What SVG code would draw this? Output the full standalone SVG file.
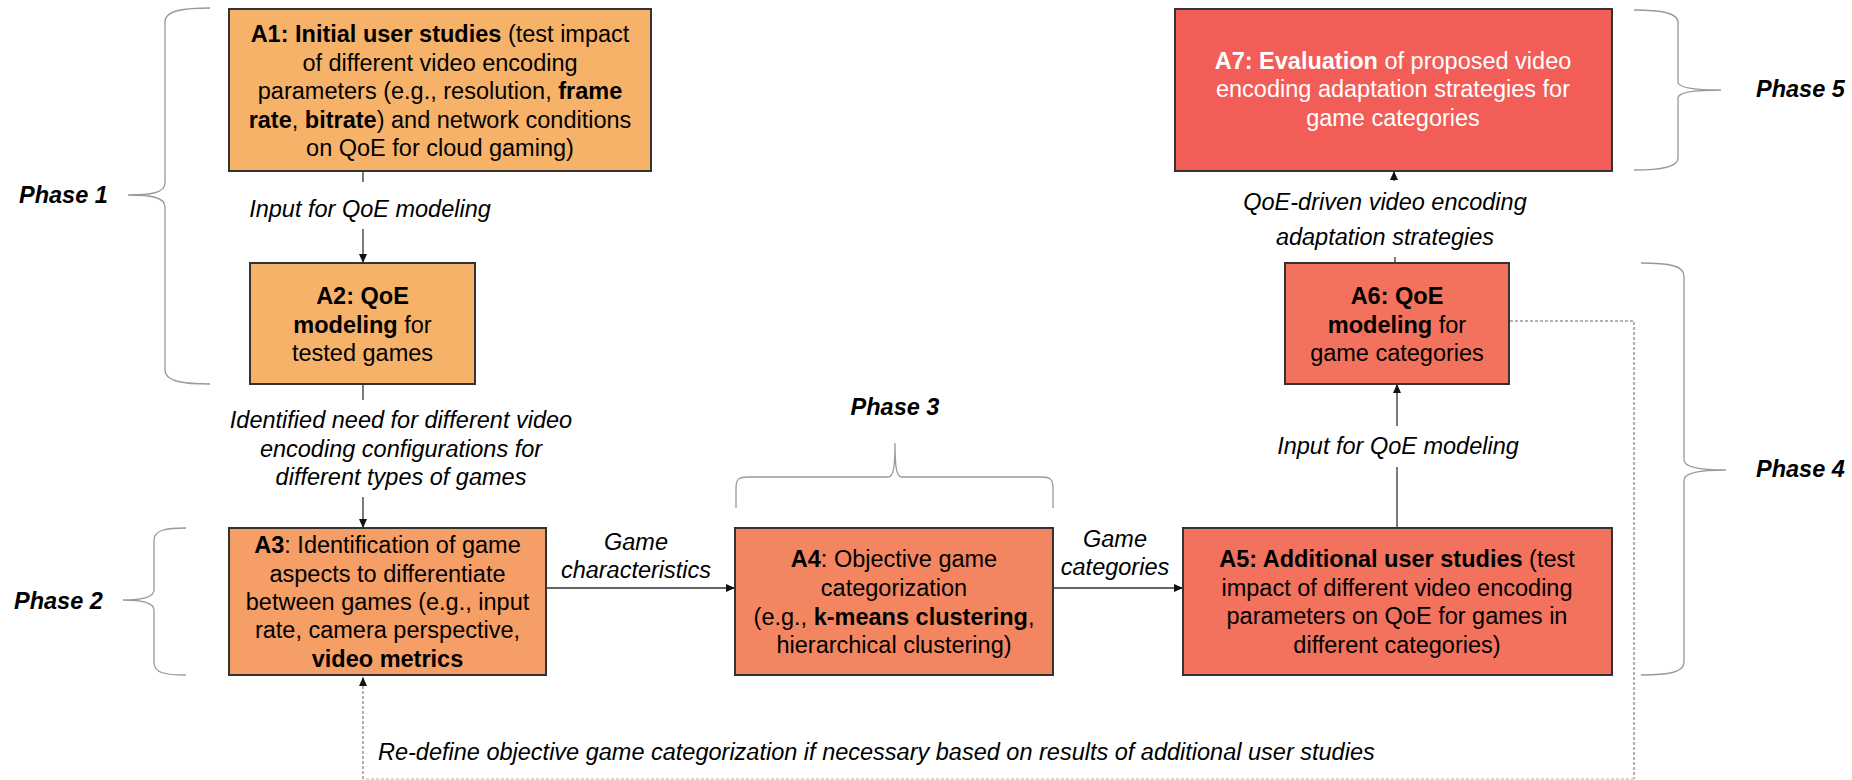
<svg xmlns="http://www.w3.org/2000/svg" width="1852" height="780" viewBox="0 0 1852 780">
<defs>
<style>
.box{stroke:#333;stroke-width:2}
.t{font-family:"Liberation Sans",Arial,sans-serif;font-size:23.5px;fill:#000;text-anchor:middle}
.w{fill:#fff}
.b{font-weight:bold}
.lbl{font-family:"Liberation Sans",Arial,sans-serif;font-size:23.5px;font-style:italic;fill:#000;text-anchor:middle}
.ph{font-family:"Liberation Sans",Arial,sans-serif;font-size:23.5px;font-style:italic;font-weight:bold;fill:#000}
.ln{stroke:#333;stroke-width:1.3;fill:none}
.dash{stroke:#999;stroke-width:1.5;fill:none;stroke-dasharray:3 2}
.br{stroke:#999;stroke-width:1.3;fill:none}
</style>
<marker id="ah" markerUnits="userSpaceOnUse" markerWidth="10" markerHeight="10" viewBox="0 0 10 10" refX="9" refY="5" orient="auto">
<path d="M0,1 L9,5 L0,9 Z" fill="#111"/>
</marker>
</defs>

<g id="braces">
<path class="br" d="M210,8 C185,8 165,10 165,22 L165,183 C165,193 150,195 128,195 C150,195 165,197 165,207 L165,370 C165,382 185,384 210,384"/>
<path class="br" d="M186,528 C166,528 154,530 154,540 L154,590 C154,598 140,600 123,600 C140,600 154,602 154,610 L154,663 C154,673 166,675 186,675"/>
<path class="br" d="M736,508 L736,488 C736,479 739,477 748,477 L888,477 C893,477 895,470 895,443 C895,470 897,477 902,477 L1041,477 C1050,477 1053,479 1053,488 L1053,508"/>
<path class="br" d="M1641,263 C1670,263 1684,266 1684,276 L1684,460 C1684,467 1700,470 1726,470 C1700,470 1684,473 1684,480 L1684,662 C1684,672 1670,675 1641,675"/>
<path class="br" d="M1634,10 C1662,10 1678,13 1678,22 L1678,82 C1678,88 1695,90 1721,90 C1695,90 1678,92 1678,98 L1678,158 C1678,167 1662,170 1634,170"/>
</g>

<g id="phases">
<text class="ph" x="19" y="203">Phase 1</text>
<text class="ph" x="14" y="609">Phase 2</text>
<text class="ph" x="895" y="415" style="text-anchor:middle">Phase 3</text>
<text class="ph" x="1756" y="477">Phase 4</text>
<text class="ph" x="1756" y="97">Phase 5</text>
</g>

<g id="connectors">
<line class="ln" x1="363" y1="172" x2="363" y2="182"/>
<line class="ln" x1="363" y1="229" x2="363" y2="263" marker-end="url(#ah)"/>
<text class="lbl" x="370" y="217">Input for QoE modeling</text>

<line class="ln" x1="363" y1="385" x2="363" y2="400"/>
<line class="ln" x1="363" y1="497" x2="363" y2="528" marker-end="url(#ah)"/>
<text class="lbl" x="401" y="428">Identified need for different video</text>
<text class="lbl" x="401" y="457">encoding configurations for</text>
<text class="lbl" x="401" y="485">different types of games</text>

<line class="ln" x1="547" y1="588" x2="735" y2="588" marker-end="url(#ah)"/>
<text class="lbl" x="636" y="550">Game</text>
<text class="lbl" x="636" y="578">characteristics</text>

<line class="ln" x1="1054" y1="588" x2="1183" y2="588" marker-end="url(#ah)"/>
<text class="lbl" x="1115" y="547">Game</text>
<text class="lbl" x="1115" y="575">categories</text>

<line class="ln" x1="1397" y1="527" x2="1397" y2="467"/>
<line class="ln" x1="1397" y1="426" x2="1397" y2="384" marker-end="url(#ah)"/>
<text class="lbl" x="1398" y="454">Input for QoE modeling</text>

<line class="ln" x1="1395" y1="262" x2="1395" y2="257"/>
<line class="ln" x1="1394" y1="181" x2="1394" y2="171" marker-end="url(#ah)"/>
<text class="lbl" x="1385" y="210">QoE-driven video encoding</text>
<text class="lbl" x="1385" y="245">adaptation strategies</text>

<path class="dash" d="M1510,321 L1634,321 L1634,779"/>
<path class="dash" d="M1634,779 L363,779" style="stroke:#ccc"/>
<path class="dash" d="M363,779 L363,677" marker-end="url(#ah)"/>
<text class="lbl" x="378" y="760" style="text-anchor:start">Re-define objective game categorization if necessary based on results of additional user studies</text>
</g>

<g id="A1">
<rect class="box" x="229" y="9" width="422" height="162" fill="#F7B26A"/>
<text class="t" x="440" y="42"><tspan class="b">A1: Initial user studies</tspan> (test impact</text>
<text class="t" x="440" y="71">of different video encoding</text>
<text class="t" x="440" y="99">parameters (e.g., resolution, <tspan class="b">frame</tspan></text>
<text class="t" x="440" y="128"><tspan class="b">rate</tspan>, <tspan class="b">bitrate</tspan>) and network conditions</text>
<text class="t" x="440" y="156">on QoE for cloud gaming)</text>
</g>

<g id="A2">
<rect class="box" x="250" y="263" width="225" height="121" fill="#F7B26A"/>
<text class="t" x="362.5" y="304"><tspan class="b">A2: QoE</tspan></text>
<text class="t" x="362.5" y="333"><tspan class="b">modeling</tspan> for</text>
<text class="t" x="362.5" y="361">tested games</text>
</g>

<g id="A3">
<rect class="box" x="229" y="528" width="317" height="147" fill="#F59E66"/>
<text class="t" x="387.5" y="553"><tspan class="b">A3</tspan>: Identification of game</text>
<text class="t" x="387.5" y="582">aspects to differentiate</text>
<text class="t" x="387.5" y="610">between games (e.g., input</text>
<text class="t" x="387.5" y="638">rate, camera perspective,</text>
<text class="t" x="387.5" y="667"><tspan class="b">video metrics</tspan></text>
</g>

<g id="A4">
<rect class="box" x="735" y="528" width="318" height="147" fill="#F38661"/>
<text class="t" x="894" y="567"><tspan class="b">A4</tspan>: Objective game</text>
<text class="t" x="894" y="596">categorization</text>
<text class="t" x="894" y="625">(e.g., <tspan class="b">k-means clustering</tspan>,</text>
<text class="t" x="894" y="653">hierarchical clustering)</text>
</g>

<g id="A5">
<rect class="box" x="1183" y="528" width="429" height="147" fill="#F2725D"/>
<text class="t" x="1397" y="567"><tspan class="b">A5: Additional user studies</tspan> (test</text>
<text class="t" x="1397" y="596">impact of different video encoding</text>
<text class="t" x="1397" y="624">parameters on QoE for games in</text>
<text class="t" x="1397" y="653">different categories)</text>
</g>

<g id="A6">
<rect class="box" x="1285" y="263" width="224" height="121" fill="#F2725D"/>
<text class="t" x="1397" y="304"><tspan class="b">A6: QoE</tspan></text>
<text class="t" x="1397" y="333"><tspan class="b">modeling</tspan> for</text>
<text class="t" x="1397" y="361">game categories</text>
</g>

<g id="A7">
<rect class="box" x="1175" y="9" width="437" height="162" fill="#F25D57"/>
<text class="t w" x="1393" y="69"><tspan class="b">A7: Evaluation</tspan> of proposed video</text>
<text class="t w" x="1393" y="97">encoding adaptation strategies for</text>
<text class="t w" x="1393" y="126">game categories</text>
</g>
</svg>
